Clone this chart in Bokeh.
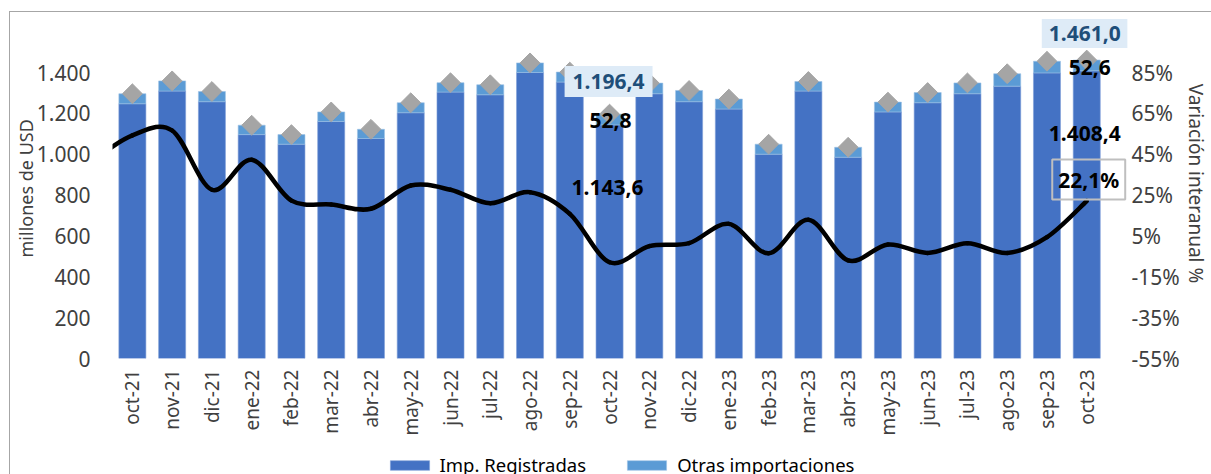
import math
from bokeh.plotting import figure
from bokeh.layouts import column
from bokeh.models import Range1d, LinearAxis, FixedTicker, Label, Legend, LegendItem
from bokeh.embed import file_html
from bokeh.resources import INLINE

# ---------------- data ----------------
months = ["oct-21", "nov-21", "dic-21", "ene-22", "feb-22", "mar-22", "abr-22",
          "may-22", "jun-22", "jul-22", "ago-22", "sep-22", "oct-22", "nov-22",
          "dic-22", "ene-23", "feb-23", "mar-23", "abr-23", "may-23", "jun-23",
          "jul-23", "ago-23", "sep-23", "oct-23"]
imp_registradas = [1247, 1309, 1257, 1096, 1049, 1160, 1077, 1203, 1304, 1291,
                   1400, 1353, 1143.6, 1296, 1257, 1221, 1000, 1309, 985, 1207,
                   1252, 1296, 1333, 1398, 1408.4]
otras_importaciones = [49, 50, 50, 46, 47, 47, 45, 49, 46, 49, 47, 49, 52.8, 52,
                       55, 49, 49, 47, 49, 48, 50, 53, 61, 57, 52.6]
variacion_interanual = [54.2, 56.6, 27.6, 42.3, 22.3, 20.4, 18.3, 29.7, 27.6, 21.0,
                        26.4, 15.8, -7.9, 0.0, 1.5, 10.9, -3.5, 12.9, -7.0, 0.8,
                        -3.3, 1.4, -3.3, 4.4, 22.1]
# value of the month before the first shown category (line enters from the left edge)
variacion_previa = 42.0
left_ticks = [0, 200, 400, 600, 800, 1000, 1200, 1400]
right_ticks = [-55, -35, -15, 5, 25, 45, 65, 85]

FONT = "Noto Sans"
DARK = "#4472C4"
LIGHT = "#5B9BD5"
GREY_TXT = "#404040"

# ---------------- geometry (canvas px) ----------------
W, H, HL = 1201, 440, 22
FRAME_LEFT, FRAME_RIGHT = 100, 1121
FRAME_TOP, FRAME_BOTTOM = 1, 346
PX_PER_CAT = 40.0
PX_1400 = 286.0
frame_h = FRAME_BOTTOM - FRAME_TOP
y_top = 1400 * frame_h / PX_1400
r_bottom = -55
r_top = r_bottom + 140 * frame_h / PX_1400
x_end = -0.5 + (FRAME_RIGHT - FRAME_LEFT) / PX_PER_CAT

p = figure(width=W, height=H, output_backend="svg", toolbar_location=None,
           x_range=Range1d(-0.5, x_end), y_range=Range1d(0, y_top),
           min_border_left=FRAME_LEFT, min_border_right=W - FRAME_RIGHT,
           min_border_top=FRAME_TOP, min_border_bottom=H - FRAME_BOTTOM)
p.outline_line_color = None
p.xgrid.visible = False
p.ygrid.visible = False

xs = list(range(len(months)))
totals = [a + b for a, b in zip(imp_registradas, otras_importaciones)]

r_imp = p.vbar(x=xs, bottom=0, top=imp_registradas, width=0.68,
               fill_color=DARK, line_color="#7F9FD8", line_width=0.6)
r_otr = p.vbar(x=xs, bottom=imp_registradas, top=totals, width=0.68,
               fill_color=LIGHT, line_color="#9DC3E6", line_width=0.6)
p.scatter(x=xs, y=totals, marker="square", size=14, angle=math.pi / 4,
          fill_color="#A5A5A5", line_color="#A5A5A5")

# secondary axis for the line
p.extra_y_ranges = {"pct": Range1d(r_bottom, r_top)}

# smoothed line (Bezier segments, Excel-like smoothing)
lx = [-1] + xs
ly = [variacion_previa] + variacion_interanual
n = len(lx)
x0, y0, x1, y1, cx0, cy0, cx1, cy1 = [], [], [], [], [], [], [], []
for i in range(n - 1):
    pxm, pym = (lx[i - 1], ly[i - 1]) if i > 0 else (lx[i], ly[i])
    pxp, pyp = (lx[i + 2], ly[i + 2]) if i + 2 < n else (lx[i + 1], ly[i + 1])
    x0.append(lx[i]); y0.append(ly[i])
    x1.append(lx[i + 1]); y1.append(ly[i + 1])
    cx0.append(lx[i] + (lx[i + 1] - pxm) / 6); cy0.append(ly[i] + (ly[i + 1] - pym) / 6)
    cx1.append(lx[i + 1] - (pxp - lx[i]) / 6); cy1.append(ly[i + 1] - (pyp - ly[i]) / 6)
p.bezier(x0=x0, y0=y0, x1=x1, y1=y1, cx0=cx0, cy0=cy0, cx1=cx1, cy1=cy1,
         line_color="black", line_width=4.5, line_cap="round", y_range_name="pct")

# ---------------- axes ----------------
def fmt_es(v, dec=0):
    s = f"{v:,.{dec}f}"
    return s.replace(",", "X").replace(".", ",").replace("X", ".")

yl = p.yaxis[0]
yl.ticker = FixedTicker(ticks=left_ticks)
yl.major_label_overrides = {t: fmt_es(t) for t in left_ticks}
yl.axis_label = "millones de  USD"

yr = LinearAxis(y_range_name="pct", ticker=FixedTicker(ticks=right_ticks))
yr.major_label_overrides = {t: f"{t}%" for t in right_ticks}
yr.axis_label = "Variación  interanual %"
p.add_layout(yr, "right")

xa = p.xaxis[0]
xa.ticker = FixedTicker(ticks=xs)
xa.major_label_overrides = {i: m for i, m in enumerate(months)}
xa.major_label_orientation = math.pi / 2

for ax in [yl, yr, xa]:
    ax.axis_line_color = None
    ax.major_tick_line_color = None
    ax.minor_tick_line_color = None
    ax.major_tick_out = 0
    ax.minor_tick_out = 0
    ax.major_label_text_font = FONT
    ax.major_label_text_font_size = "21px"
    ax.major_label_text_color = GREY_TXT
    ax.axis_label_text_font = FONT
    ax.axis_label_text_font_style = "normal"
    ax.axis_label_text_color = GREY_TXT
xa.major_label_text_font_size = "19px"
xa.major_label_standoff = 11
yl.major_label_standoff = 22
yl.axis_label_standoff = -4
yl.axis_label_text_font_size = "18px"
yr.major_label_standoff = 4
yr.axis_label_standoff = 0
yr.axis_label_text_font_size = "19px"

# ---------------- data labels ----------------
def lab(x, y, text, **kw):
    d = dict(x=x, y=y, text=text, text_font=FONT, text_font_style="bold",
             text_font_size="21px", text_align="center", text_baseline="middle",
             text_color="black")
    d.update(kw)
    p.add_layout(Label(**d))

i22 = months.index("oct-22")
i23 = months.index("oct-23")
lab(i22 - 0.025, 1356, fmt_es(totals[i22], 1),
    text_color="#1F4E79", background_fill_color="#DEEBF7", padding=8)
lab(i22 + 0.025, 1165, fmt_es(otras_importaciones[i22], 1))
lab(i22 - 0.05, 837, fmt_es(imp_registradas[i22], 1))
lab(i23 - 0.05, 1591, fmt_es(totals[i23], 1),
    text_color="#1F4E79", background_fill_color="#DEEBF7", padding=7)
lab(i23 + 0.075, 1424, fmt_es(otras_importaciones[i23], 1))
lab(i23 - 0.05, 1101, fmt_es(imp_registradas[i23], 1))
lab(i23 + 0.05, 876, fmt_es(variacion_interanual[-1], 1) + "%",
    border_line_color="#BFBFBF", border_line_width=2, padding=6)

# ---------------- legend (own strip below the chart) ----------------
pl = figure(width=W, height=HL, output_backend="svg", toolbar_location=None,
            x_range=Range1d(0, 1), y_range=Range1d(0, 1),
            x_axis_type=None, y_axis_type=None,
            min_border_left=0, min_border_right=0, min_border_top=0, min_border_bottom=0)
pl.outline_line_color = None
pl.xgrid.visible = False
pl.ygrid.visible = False
l_imp = pl.vbar(x=xs, top=imp_registradas, width=0.68, fill_color=DARK,
                line_color="#7F9FD8", line_width=0.6, visible=False)
l_otr = pl.vbar(x=xs, top=otras_importaciones, width=0.68, fill_color=LIGHT,
                line_color="#9DC3E6", line_width=0.6, visible=False)
legend = Legend(items=[LegendItem(label="Imp. Registradas", renderers=[l_imp]),
                       LegendItem(label="Otras importaciones", renderers=[l_otr])],
                orientation="horizontal", location="top_center",
                label_text_font=FONT, label_text_font_size="18.5px",
                label_text_color="black", glyph_width=49, glyph_height=12,
                label_standoff=6, spacing=36, padding=0, margin=0,
                border_line_color=None, background_fill_alpha=0)
pl.add_layout(legend)

layout = column(p, pl, spacing=0, margin=(11, 0, 0, 9),
                styles={"border-left": "1px solid #A6A6A6", "border-top": "1px solid #A6A6A6"})
open("out.html", "w").write(file_html(layout, INLINE))
